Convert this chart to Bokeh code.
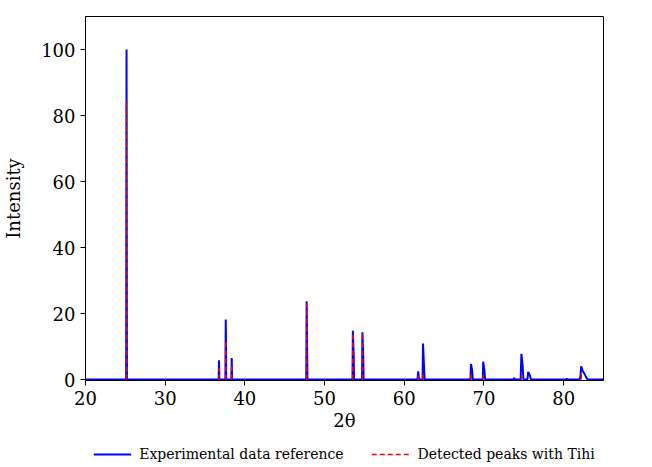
from bokeh.plotting import figure
from bokeh.layouts import column
from bokeh.models import Legend, LegendItem, Range1d, FixedTicker
from bokeh.embed import file_html
from bokeh.resources import INLINE

# Experimental profile (2theta, intensity)
exp_two_theta = [20.0, 25.1, 25.15, 25.2,
                 36.7, 36.75, 36.8,
                 37.55, 37.6, 37.63, 37.66,
                 38.3, 38.35, 38.4,
                 47.7, 47.75, 47.8, 47.85,
                 53.5, 53.55, 53.65, 53.7,
                 54.7, 54.75, 54.85, 54.9,
                 61.65, 61.75, 61.85,
                 62.3, 62.35, 62.45, 62.55,
                 68.3, 68.37, 68.5, 68.6,
                 69.85, 69.9, 70.05, 70.15,
                 73.7, 73.8, 73.9,
                 74.6, 74.7, 74.85, 74.95,
                 75.45, 75.55, 75.75, 75.9,
                 80.3, 80.4, 80.5,
                 82.0, 82.1, 82.2, 82.4, 82.6, 82.8, 83.0,
                 85.0]
exp_intensity = [0.0, 0.0, 100.0, 0.0,
                 0.0, 5.8, 0.0,
                 0.0, 18.2, 11.0, 0.0,
                 0.0, 6.5, 0.0,
                 0.0, 23.7, 12.0, 0.0,
                 0.0, 14.8, 7.5, 0.0,
                 0.0, 14.3, 7.0, 0.0,
                 0.0, 2.5, 0.0,
                 0.0, 10.9, 5.5, 0.0,
                 0.0, 4.7, 3.0, 0.0,
                 0.0, 5.4, 3.0, 0.0,
                 0.0, 0.5, 0.0,
                 0.0, 7.8, 4.2, 0.0,
                 0.0, 2.3, 1.3, 0.0,
                 0.0, 0.3, 0.0,
                 0.0, 1.0, 4.0, 2.5, 1.8, 0.8, 0.0,
                 0.0]

# Detected peaks (position, height)
peak_two_theta = [25.15, 36.75, 37.6, 38.35, 47.75, 53.55, 54.75,
                  61.75, 62.35, 68.37, 69.9, 74.7, 82.2]
peak_intensity = [84.0, 3.5, 11.2, 5.0, 23.0, 14.0, 14.0,
                  1.2, 1.5, 1.5, 1.3, 1.0, 2.2]

x_ticks = [20, 30, 40, 50, 60, 70, 80]
y_ticks = [0, 20, 40, 60, 80, 100]

legend_labels = ["Experimental data reference", "Detected peaks with Tihi"]

FONT = "DejaVu Serif"
BLUE = "#0000ff"
RED = "#ff0000"
DASH = "5 3"

p = figure(frame_width=518, frame_height=364, output_backend="svg",
           toolbar_location=None, x_range=Range1d(20, 85),
           y_range=Range1d(-0.3, 110),
           min_border_left=80, min_border_top=16, min_border_right=36,
           min_border_bottom=63)
p.background_fill_color = "white"
p.border_fill_color = "white"
p.outline_line_color = "black"
p.outline_line_width = 1
p.xgrid.visible = False
p.ygrid.visible = False

p.line(exp_two_theta, exp_intensity, line_color=BLUE, line_width=2)
p.segment(x0=peak_two_theta, y0=[0] * len(peak_two_theta),
          x1=peak_two_theta, y1=peak_intensity,
          line_color=RED, line_width=1.6, line_dash=DASH)

for ax in (p.xaxis[0], p.yaxis[0]):
    ax.axis_line_color = "black"
    ax.major_tick_line_color = "black"
    ax.major_tick_out = 5
    ax.major_tick_in = 0
    ax.minor_tick_line_color = None
    ax.major_label_text_font = FONT
    ax.major_label_text_font_size = "18px"
    ax.major_label_text_color = "black"
    ax.axis_label_text_font = FONT
    ax.axis_label_text_font_size = "18px"
    ax.axis_label_text_font_style = "normal"
    ax.axis_label_text_color = "black"

p.xaxis.ticker = FixedTicker(ticks=x_ticks)
p.yaxis.ticker = FixedTicker(ticks=y_ticks)
p.xaxis.axis_label = "2θ"
p.yaxis.axis_label = "Intensity"
p.xaxis.axis_label_standoff = 2
p.yaxis.axis_label_standoff = 14

# Legend strip below the chart; legend drawn inside the strip's frame
lf = figure(frame_width=518, frame_height=22, output_backend="svg",
            toolbar_location=None, x_axis_location=None, y_axis_location=None,
            x_range=Range1d(0, 1), y_range=Range1d(0, 1),
            min_border_left=80, min_border_right=36, min_border_top=0,
            min_border_bottom=0)
lf.xgrid.visible = False
lf.ygrid.visible = False
lf.outline_line_color = None
lf.background_fill_color = "white"
lf.border_fill_color = "white"
r_blue = lf.line(x=[-10, -9], y=[-10, -10], line_color=BLUE, line_width=2)
r_red = lf.line(x=[-10, -9], y=[-10, -10], line_color=RED, line_width=1.6,
                line_dash=DASH)
legend = Legend(items=[LegendItem(label=legend_labels[0], renderers=[r_blue]),
                       LegendItem(label=legend_labels[1], renderers=[r_red])],
                orientation="horizontal", location="center",
                label_text_font=FONT, label_text_font_size="14px",
                label_text_color="black",
                glyph_width=38, glyph_height=16, label_height=16,
                label_standoff=8, spacing=28,
                border_line_color=None, background_fill_alpha=0,
                padding=2, margin=0)
lf.add_layout(legend, "center")

layout = column(p, lf, spacing=0)
open("out.html", "w").write(file_html(layout, INLINE))
